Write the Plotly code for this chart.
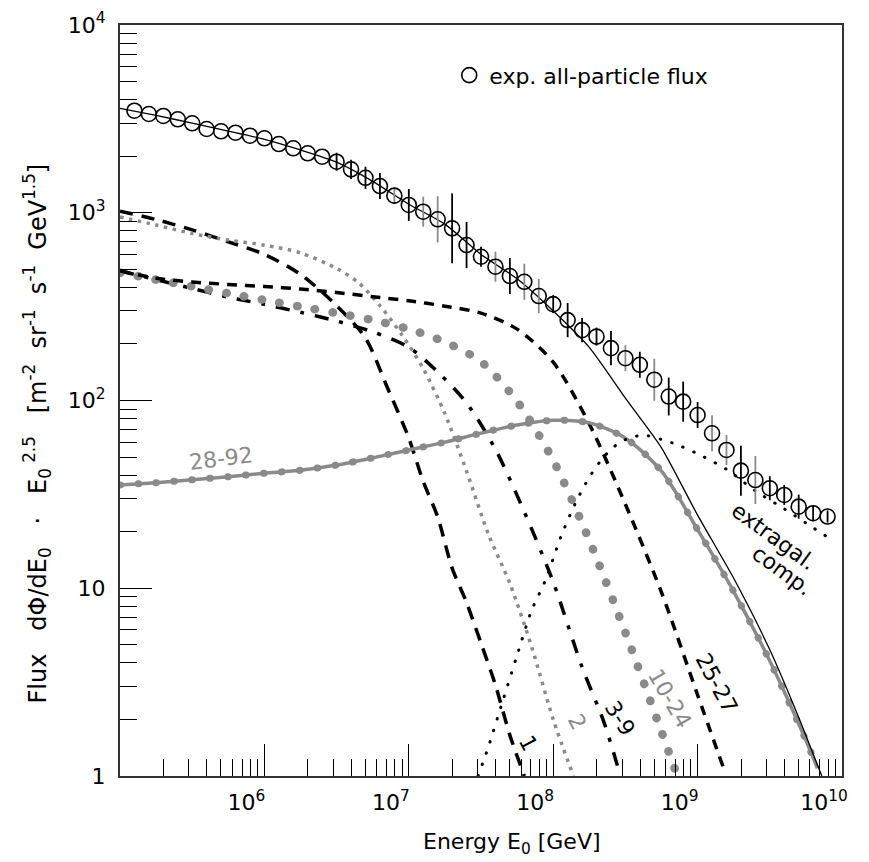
import plotly.graph_objects as go

# ---------------- data ----------------
# experimental all-particle flux: log10(E0/GeV) and flux * E^2.5
data_log_e = [5.1, 5.2, 5.3, 5.4, 5.5, 5.6, 5.7, 5.8, 5.9, 6.0,
              6.1, 6.2, 6.3, 6.4, 6.5, 6.6, 6.7, 6.8, 6.9, 7.0,
              7.1, 7.2, 7.3, 7.4, 7.5, 7.6, 7.7, 7.8, 7.9, 8.0,
              8.1, 8.2, 8.3, 8.4, 8.5, 8.6, 8.7, 8.8, 8.9, 9.0,
              9.1, 9.2, 9.3, 9.4, 9.5, 9.6, 9.7, 9.8, 9.9]
data_flux = [3496, 3357, 3276, 3146, 2995, 2793, 2716, 2669, 2573, 2492,
             2323, 2204, 2074, 1988, 1870, 1703, 1535, 1388, 1233, 1100,
             1013, 923, 826, 673, 583, 516, 460, 429, 360, 326,
             268, 237, 219, 190, 168, 155, 129, 105, 98.6, 83.7,
             66.9, 54.5, 42.3, 37.7, 34.1, 31.4, 27.2, 25.1, 24.1]
# uncertainties (in dex); black bars and grey bars, 0 = none
err_black = [0, 0, 0, 0, 0, 0, 0, 0, 0, 0,
             0, 0, 0, 0, 0.048, 0.051, 0.059, 0.069, 0, 0.085,
             0, 0, 0.186, 0.123, 0.053, 0, 0.096, 0, 0, 0.048,
             0.091, 0.064, 0.048, 0.091, 0, 0.069, 0, 0.101, 0.107, 0.069,
             0, 0, 0.133, 0, 0.064, 0.053, 0.064, 0.043, 0.032]
err_grey = [0, 0, 0, 0, 0, 0, 0, 0, 0, 0,
            0, 0, 0, 0, 0, 0, 0, 0, 0.043, 0,
            0.080, 0.123, 0, 0, 0, 0.080, 0, 0.096, 0.091, 0,
            0, 0, 0, 0, 0.069, 0, 0.112, 0, 0, 0,
            0.096, 0.080, 0, 0.128, 0, 0, 0, 0, 0]

# model: sum of galactic components
sum_log_e = [5.0, 5.25, 5.5, 5.75, 6.0, 6.25, 6.5, 6.75, 7.0, 7.25, 7.5,
             7.75, 8.0, 8.25, 8.5, 8.75, 9.0, 9.25, 9.5, 9.7, 9.86]
sum_flux = [3600, 3300, 3000, 2720, 2460, 2160, 1860, 1470, 1110, 870, 600,
            445, 300, 192, 103, 56, 24.5, 11.3, 4.7, 2.05, 1.0]

# Z = 1
p_log_e = [5.0, 5.25, 5.5, 5.75, 6.0, 6.25, 6.5, 6.7, 6.85, 7.0, 7.1, 7.2,
           7.3, 7.4, 7.5, 7.6, 7.7, 7.8]
p_flux = [1020, 920, 810, 700, 600, 470, 320, 215, 118, 63, 37, 24,
          12.8, 8.4, 5.1, 3.05, 1.65, 1.0]
# Z = 2
he_log_e = [5.0, 5.25, 5.5, 5.75, 6.0, 6.25, 6.5, 6.65, 6.8, 6.95, 7.1,
            7.25, 7.4, 7.55, 7.7, 7.85, 8.0, 8.14]
he_flux = [950, 860, 775, 715, 672, 612, 505, 425, 320, 225, 148,
           85, 42, 19.5, 10.6, 4.9, 2.0, 1.0]
# Z = 3-9
cno_log_e = [5.0, 5.25, 5.5, 5.75, 6.0, 6.25, 6.5, 6.75, 7.0, 7.2, 7.4,
             7.6, 7.8, 8.0, 8.2, 8.35, 8.45]
cno_flux = [490, 440, 395, 355, 325, 295, 265, 232, 192, 142, 97,
            55, 25.5, 10.8, 3.8, 1.95, 1.1]
# Z = 10-24
mg_log_e = [5.0, 5.25, 5.5, 5.75, 6.0, 6.25, 6.5, 6.75, 7.0, 7.25, 7.5,
            7.75, 8.0, 8.25, 8.5, 8.75, 8.85]
mg_flux = [480, 440, 405, 372, 343, 316, 292, 268, 240, 205, 161,
           99, 48, 18, 5.8, 1.72, 1.05]
# Z = 25-27
fe_log_e = [5.0, 5.25, 5.5, 5.75, 6.0, 6.25, 6.5, 6.75, 7.0, 7.25, 7.5,
            7.75, 8.0, 8.25, 8.5, 8.75, 9.0, 9.18]
fe_flux = [490, 448, 428, 415, 405, 392, 376, 357, 340, 318, 292,
           240, 160, 75, 28, 9.5, 2.7, 1.1]
# Z = 28-92
hv_log_e = [5.0, 5.25, 5.5, 5.75, 6.0, 6.25, 6.5, 6.75, 7.0, 7.25, 7.5,
            7.75, 8.0, 8.25, 8.5, 8.75, 9.0, 9.25, 9.5, 9.75, 9.83]
hv_flux = [35.5, 36.5, 37.8, 39.3, 41, 42.5, 45.3, 49.5, 54.5, 60, 67,
           74, 78.5, 76, 63, 42, 20.5, 9.6, 4.1, 1.55, 1.1]
# extragalactic component
ex_log_e = [7.48, 7.55, 7.65, 7.75, 7.85, 7.95, 8.05, 8.15, 8.25, 8.35, 8.45,
            8.55, 8.65, 8.75, 8.85, 9.0, 9.2, 9.4, 9.6, 9.8, 9.95]
ex_flux = [1.0, 1.42, 2.5, 4.4, 7.6, 11.2, 18.5, 28, 39, 50, 59,
           64, 65, 62, 58.5, 52, 43, 33, 26.5, 21, 17.7]

x_tick_vals = [1e6, 1e7, 1e8, 1e9, 1e10]
x_tick_text = ["10<sup>6</sup>", "10<sup>7</sup>", "10<sup>8</sup>",
               "10<sup>9</sup>", "10<sup>10</sup>"]
y_tick_vals = [1, 10, 100, 1000, 10000]
y_tick_text = ["1", "10", "10<sup>2</sup>", "10<sup>3</sup>", "10<sup>4</sup>"]

# ---------------- figure ----------------
BLACK = "#000000"
GREY = "#8a8a8a"
FONT = "DejaVu Sans"


def E(logs):
    return [10 ** v for v in logs]


fig = go.Figure()


def curve(logs, vals, color, width, dash="solid", smoothing=0.8):
    fig.add_trace(go.Scatter(
        x=E(logs), y=vals, mode="lines", showlegend=False, hoverinfo="skip",
        line=dict(color=color, width=width, dash=dash, shape="spline",
                  smoothing=smoothing)))


curve(p_log_e, p_flux, BLACK, 3.5, "13px,9px")
curve(he_log_e, he_flux, GREY, 3.5, "3.5px,5.5px")
curve(cno_log_e, cno_flux, BLACK, 3.5, "14px,11px,4px,11px")
curve(mg_log_e, mg_flux, GREY, 8.5, "0.5px,17.5px")
curve(fe_log_e, fe_flux, BLACK, 3.5, "10px,8px")
curve(hv_log_e, hv_flux, GREY, 3.5)
curve(hv_log_e, hv_flux, GREY, 7, "0.5px,17.5px")
curve(ex_log_e, ex_flux, BLACK, 3, "0.5px,11.5px")
curve(sum_log_e, sum_flux, BLACK, 1.3, smoothing=0.6)


def bars(errs, color):
    xs, ys, up, dn = [], [], [], []
    for lx, f, d in zip(data_log_e, data_flux, errs):
        if d > 0:
            xs.append(10 ** lx)
            ys.append(f)
            up.append(f * (10 ** d - 1))
            dn.append(f * (1 - 10 ** (-d)))
    fig.add_trace(go.Scatter(
        x=xs, y=ys, mode="markers", showlegend=False, hoverinfo="skip",
        marker=dict(size=1, color="rgba(0,0,0,0)"),
        error_y=dict(type="data", symmetric=False, array=up, arrayminus=dn,
                     color=color, thickness=1.8, width=0)))


bars(err_grey, GREY)
bars(err_black, BLACK)

fig.add_trace(go.Scatter(
    x=E(data_log_e), y=data_flux, mode="markers",
    name="exp. all-particle flux", showlegend=True, hoverinfo="skip",
    marker=dict(symbol="circle-open", size=15, color=BLACK,
                line=dict(width=1.6, color=BLACK))))

minor_x = [k * 10 ** d for d in range(5, 10) for k in range(2, 10)]
minor_y = [k * 10 ** d for d in range(0, 4) for k in range(2, 10)]

axis_common = dict(
    type="log", showgrid=False, zeroline=False, showline=True,
    linecolor="#333333", linewidth=2, mirror=True, automargin=False,
    ticks="inside", ticklen=32, tickwidth=1.3, tickcolor=BLACK,
    tickfont=dict(family=FONT, size=22, color=BLACK),
)

fig.update_layout(
    width=869, height=862, autosize=False,
    margin=dict(l=120, r=27, t=25, b=86, pad=0, autoexpand=False),
    paper_bgcolor="white", plot_bgcolor="white",
    font=dict(family=FONT, size=22, color=BLACK),
    showlegend=True, hovermode=False,
    legend=dict(x=0.456, y=0.933, xanchor="left", yanchor="middle",
                bgcolor="rgba(0,0,0,0)", borderwidth=0,
                font=dict(family=FONT, size=22, color=BLACK)),
    xaxis=dict(axis_common, range=[5, 10],
               tickmode="array", tickvals=x_tick_vals, ticktext=x_tick_text,
               ticklabelshift=-18, ticklabelstandoff=6,
               minor=dict(ticks="inside", ticklen=17, tickwidth=1.3,
                          tickcolor=BLACK, tickmode="array",
                          tickvals=minor_x, showgrid=False)),
    yaxis=dict(axis_common, range=[0, 4],
               tickmode="array", tickvals=y_tick_vals, ticktext=y_tick_text,
               ticklabelstandoff=8,
               minor=dict(ticks="inside", ticklen=17, tickwidth=1.3,
                          tickcolor=BLACK, tickmode="array",
                          tickvals=minor_y, showgrid=False)),
)

NB = "\u00a0"
G2 = NB * 2
G3 = NB * 3
y_title = ("Flux" + G3 + "dΦ/dE<sub>0</sub>" + G3 + "·" + G3 + "E<sub>0</sub>"
           + "<sup>" + NB + "2.5</sup>" + G3 + "[m<sup>-2</sup>" + G2 + "sr<sup>-1</sup>"
           + G2 + "s<sup>-1</sup>" + G2 + "GeV<sup>1.5</sup>]")

annotations = [
    dict(text="Energy E<sub>0</sub> [GeV]", xref="paper", yref="paper",
         x=0.543, y=-0.112, yanchor="bottom", font=dict(size=22)),
    dict(text=y_title, xref="paper", yref="paper", x=-0.115, y=0.456,
         textangle=-90, font=dict(size=24)),
    dict(text="1", x=7.828, y=0.174, textangle=62, font=dict(color=BLACK)),
    dict(text="2", x=8.163, y=0.289, textangle=62, font=dict(color=GREY)),
    dict(text="3-9", x=8.463, y=0.307, textangle=58, font=dict(color=BLACK)),
    dict(text="10-24", x=8.809, y=0.414, textangle=60, font=dict(color=GREY)),
    dict(text="25-27", x=9.134, y=0.495, textangle=62, font=dict(color=BLACK)),
    dict(text="28-92", x=5.702, y=1.692, textangle=-7, font=dict(color=GREY)),
    dict(text="extragal.", x=9.529, y=1.278, textangle=36, font=dict(color=BLACK)),
    dict(text="comp.", x=9.584, y=1.092, textangle=36, font=dict(color=BLACK)),
]
for a in annotations:
    a.setdefault("showarrow", False)
    a.setdefault("xref", "x")
    a.setdefault("yref", "y")
    a.setdefault("xanchor", "center")
    a.setdefault("yanchor", "middle")
    f = a.get("font", {})
    f.setdefault("family", FONT)
    f.setdefault("size", 22)
    a["font"] = f
fig.update_layout(annotations=annotations)

post = """
(function(){
  document.body.style.margin = '0';
  document.body.style.padding = '0';
  document.body.style.overflow = 'hidden';
  var gd = document.getElementById('{plot_id}');
  function fix(){
    var paths = gd.querySelectorAll('.scatterlayer path.js-line');
    paths.forEach(function(p){
      var d = p.style.strokeDasharray || '';
      if (d.indexOf('0.5px') === 0) { p.style.strokeLinecap = 'round'; }
    });
  }
  try { fix(); gd.on('plotly_afterplot', fix); } catch (e) {}
  setTimeout(fix, 50);
})();
"""

fig.write_html("out.html", post_script=post,
               config={"displayModeBar": False, "staticPlot": False})
